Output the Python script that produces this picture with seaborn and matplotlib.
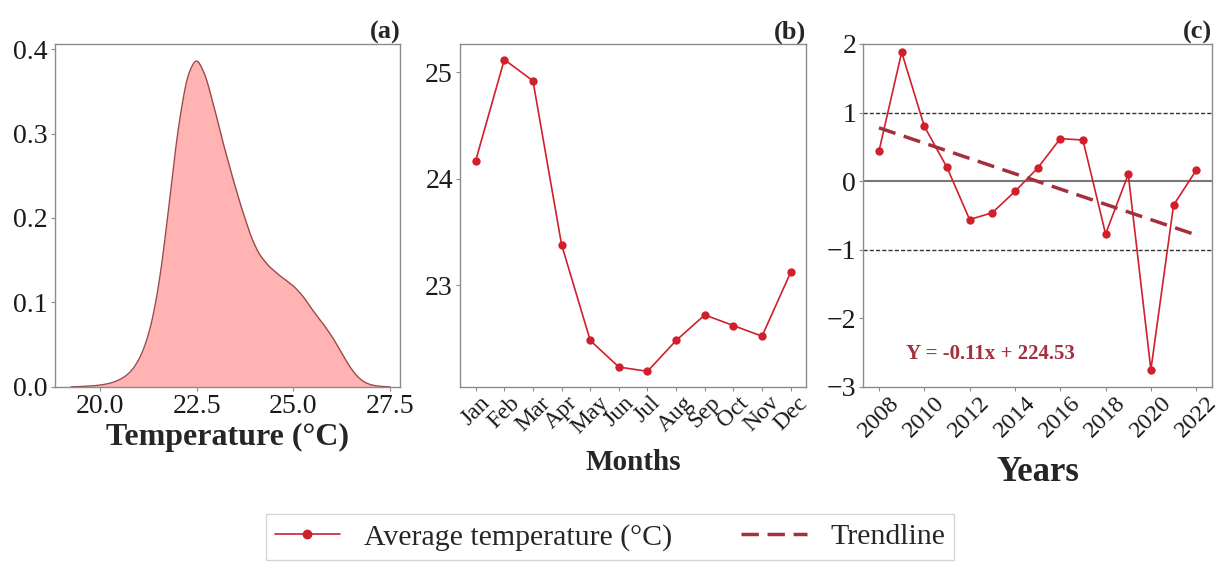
import numpy as np
import pandas as pd
import matplotlib
matplotlib.use("Agg")
import matplotlib.pyplot as plt
import seaborn as sns
from matplotlib.lines import Line2D

# density on a 0.25 °C grid
kde_x = [19.25, 19.5, 19.75, 20.0, 20.25, 20.5, 20.75, 21.0, 21.25, 21.5, 21.75, 22.0,
         22.25, 22.5, 22.75, 23.0, 23.25, 23.5, 23.75, 24.0, 24.25, 24.5, 24.75, 25.0,
         25.25, 25.5, 25.75, 26.0, 26.25, 26.5, 26.75, 27.0, 27.25, 27.5]
kde_y = [0.0, 0.0005, 0.001, 0.002, 0.004, 0.008, 0.015, 0.030, 0.058, 0.110, 0.200, 0.305,
         0.372, 0.395, 0.367, 0.322, 0.276, 0.236, 0.198, 0.165, 0.148, 0.137, 0.128, 0.120,
         0.108, 0.090, 0.076, 0.060, 0.040, 0.020, 0.007, 0.002, 0.0005, 0.0]

months = ["Jan", "Feb", "Mar", "Apr", "May", "Jun", "Jul", "Aug", "Sep", "Oct", "Nov", "Dec"]
month_temp = [24.17, 25.12, 24.92, 23.38, 22.48, 22.23, 22.19, 22.48, 22.72, 22.62, 22.52, 23.12]

years = list(range(2008, 2023))
anomaly = [0.44, 1.88, 0.80, 0.20, -0.56, -0.46, -0.15, 0.19, 0.62, 0.60, -0.77, 0.10, -2.75, -0.35, 0.16]

sns.set_style("ticks")
plt.rcParams['font.family'] = ['Liberation Serif', 'DejaVu Serif']
plt.rcParams['axes.edgecolor'] = '#8c8c8c'
plt.rcParams['xtick.color'] = '#8c8c8c'
plt.rcParams['ytick.color'] = '#8c8c8c'
plt.rcParams['xtick.labelcolor'] = '#1a1a1a'
plt.rcParams['ytick.labelcolor'] = '#1a1a1a'

red = '#d21f2c'
trend_col = '#a3303c'

fig = plt.figure(figsize=(12.2, 5.64), dpi=100)
ax1 = fig.add_axes([0.045, 0.314, 0.283, 0.608])
ax2 = fig.add_axes([0.377, 0.314, 0.284, 0.608])
ax3 = fig.add_axes([0.7075, 0.314, 0.286, 0.608])

# (a) temperature distribution
sns.kdeplot(x=kde_x, weights=kde_y, bw_method=0.12, cut=0, gridsize=400, ax=ax1,
            fill=True, color='#ffb3b3', alpha=1, linewidth=0)
sns.kdeplot(x=kde_x, weights=kde_y, bw_method=0.12, cut=0, gridsize=400, ax=ax1,
            color='#9b4a4a', linewidth=1)
ax1.set_xlim(18.83, 27.76)
ax1.set_ylim(0, 0.406)
ax1.set_xticks([20.0, 22.5, 25.0, 27.5])
ax1.set_xticklabels(["20.0", "22.5", "25.0", "27.5"])
ax1.set_yticks([0.0, 0.1, 0.2, 0.3, 0.4])
ax1.tick_params(labelsize=20, length=3, pad=2)
ax1.set_xlabel("Temperature (°C)", fontsize=23, fontweight='bold', labelpad=3)
ax1.set_ylabel("")
ax1.set_title("(a)", loc='right', fontsize=19, fontweight='bold', pad=3)

# (b) monthly means
mdf = pd.DataFrame({"Month": months, "Temp": month_temp})
sns.lineplot(data=mdf, x="Month", y="Temp", ax=ax2, color=red, marker='o',
             markersize=6, markeredgewidth=0, linewidth=1.2, sort=False)
ax2.set_yticks([23, 24, 25])
ax2.tick_params(axis='y', labelsize=20, length=3, pad=2)
ax2.tick_params(axis='x', labelsize=17, length=3, rotation=45, pad=1)
ax2.set_xlabel("Months", fontsize=21, fontweight='bold', labelpad=8)
ax2.set_ylabel("")
ax2.set_title("(b)", loc='right', fontsize=19, fontweight='bold', pad=3)

# (c) anomalies + trend
ydf = pd.DataFrame({"Year": years, "Anom": anomaly})
ax3.axhline(0, color='#777777', linewidth=1.5, zorder=1)
ax3.axhline(1, color='#333333', linewidth=1, linestyle=(0, (3, 1.5)), zorder=1)
ax3.axhline(-1, color='#333333', linewidth=1, linestyle=(0, (3, 1.5)), zorder=1)
sns.lineplot(data=ydf, x="Year", y="Anom", ax=ax3, color=red, marker='o',
             markersize=6, markeredgewidth=0, linewidth=1.2)
sns.regplot(data=ydf, x="Year", y="Anom", ax=ax3, scatter=False, ci=None,
            line_kws=dict(color=trend_col, linewidth=2.5, linestyle=(0, (5, 2.5))))
ax3.text(2012.9, -2.52, "Y = -0.11x + 224.53", color=trend_col, fontsize=15,
         fontweight='bold', ha='center', va='center')
ax3.set_ylim(-3, 2)
ax3.set_xlim(2007.3, 2022.7)
ax3.set_xticks(list(range(2008, 2023, 2)))
ax3.set_yticks([-3, -2, -1, 0, 1, 2])
ax3.tick_params(axis='y', labelsize=20, length=3, pad=2)
ax3.tick_params(axis='x', labelsize=17.5, length=3, rotation=45, pad=1)
ax3.set_xlabel("Years", fontsize=25, fontweight='bold', labelpad=10)
ax3.set_ylabel("")
ax3.set_title("(c)", loc='right', fontsize=19, fontweight='bold', pad=3)

for ax in (ax1, ax2, ax3):
    for s in ax.spines.values():
        s.set_linewidth(1)

handles = [Line2D([0], [0], color=red, marker='o', markersize=6, linewidth=1.2),
           Line2D([0], [0], color=trend_col, linewidth=2.5, linestyle=(0, (5, 2.5)))]
fig.legend(handles, ["Average temperature (°C)", "Trendline"], loc='center',
           bbox_to_anchor=(0.5, 0.048), ncol=2, fontsize=21.5, frameon=True,
           fancybox=False, edgecolor='#cccccc', handlelength=2.2, columnspacing=2.3,
           borderpad=0.3)

fig.savefig("out.png", dpi=100)
